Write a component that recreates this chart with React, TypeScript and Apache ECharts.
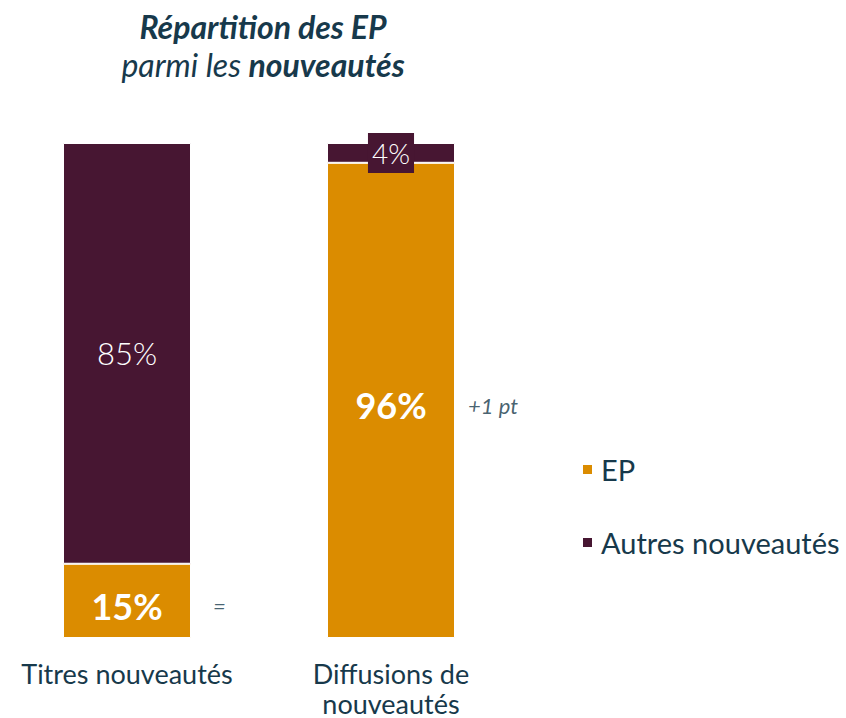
import React, { useEffect, useRef } from "react";
import * as echarts from "echarts";

const categories = ["Titres nouveautés", "Diffusions de\nnouveautés"];
const epValues = [15, 96];
const autresValues = [85, 4];
const changeLabels = ["=", "+1 pt"];

const TEXT = "#17394B";
const ORANGE = "#DB8C00";
const PURPLE = "#471632";
const FONT = "Lato, 'Open Sans', sans-serif";

export default function App() {
  const ref = useRef<HTMLDivElement>(null);
  useEffect(() => {
    if (!ref.current) return;
    const chart = echarts.init(ref.current, null, { renderer: "svg" });
    const changeOffsets = [86, 77];
    chart.setOption({
      animation: false,
      backgroundColor: "#fff",
      textStyle: { fontFamily: FONT },
      title: {
        left: 258,
        top: 2,
        textAlign: "center",
        text: "{b|Répartition des EP}\n{i|parmi les }{b|nouveautés}",
        textStyle: {
          fontWeight: "normal",
          rich: {
            b: { fontFamily: FONT, fontSize: 32, fontWeight: "bold", fontStyle: "italic", color: TEXT, lineHeight: 38 },
            i: { fontFamily: FONT, fontSize: 32, fontWeight: "normal", fontStyle: "italic", color: TEXT, lineHeight: 38 },
          },
        },
      },
      legend: {
        orient: "vertical",
        left: 576,
        top: 450,
        itemGap: 44,
        itemWidth: 11,
        itemHeight: 11,
        icon: "rect",
        textStyle: { color: TEXT, fontSize: 29, fontFamily: FONT, padding: [0, 0, 0, 3] },
        data: ["EP", "Autres nouveautés"],
      },
      grid: { left: 127, right: 455, top: 143, bottom: 80, outerBoundsMode: "none" },
      xAxis: {
        type: "category",
        data: categories,
        boundaryGap: false,
        axisLine: { show: false },
        axisTick: { show: false },
        axisLabel: { color: TEXT, fontSize: 27, fontFamily: FONT, margin: 20, lineHeight: 30, interval: 0 },
      },
      yAxis: { type: "value", min: 0, max: 100, show: false },
      series: [
        {
          name: "EP",
          type: "bar",
          stack: "s",
          barWidth: 128,
          data: epValues,
          itemStyle: { color: ORANGE, borderColor: "#fff", borderWidth: 1 },
          label: {
            show: true,
            position: "inside",
            offset: [0, 5],
            formatter: "{c}%",
            color: "#fff",
            fontSize: 36,
            fontWeight: "bold",
            fontFamily: FONT,
          },
        },
        {
          name: "Autres nouveautés",
          type: "bar",
          stack: "s",
          barWidth: 128,
          data: autresValues.map((v, i) =>
            i === 1
              ? {
                  value: v,
                  label: {
                    backgroundColor: PURPLE,
                    padding: [6, 4, 6, 4],
                    fontSize: 28,
                  },
                }
              : v
          ),
          itemStyle: { color: PURPLE, borderColor: "#fff", borderWidth: 1 },
          label: {
            show: true,
            position: "inside",
            formatter: "{c}%",
            color: "#fff",
            fontSize: 31,
            fontWeight: 300,
            fontFamily: FONT,
          },
        },
        {
          name: "changes",
          type: "scatter",
          data: epValues.map((v, i) => ({
            value: [i, v / 2],
            label: { offset: [changeOffsets[i], 5] },
          })),
          symbolSize: 0,
          silent: true,
          label: {
            show: true,
            position: "right",
            distance: 0,
            formatter: (p: any) => changeLabels[p.dataIndex],
            color: TEXT,
            fontSize: 22,
            fontStyle: "italic",
            fontFamily: FONT,
          },
        },
      ],
    });
    return () => chart.dispose();
  }, []);
  return (
    <div
      ref={ref}
      style={{ position: "fixed", left: 0, top: 0, width: 846, height: 718 }}
    />
  );
}
